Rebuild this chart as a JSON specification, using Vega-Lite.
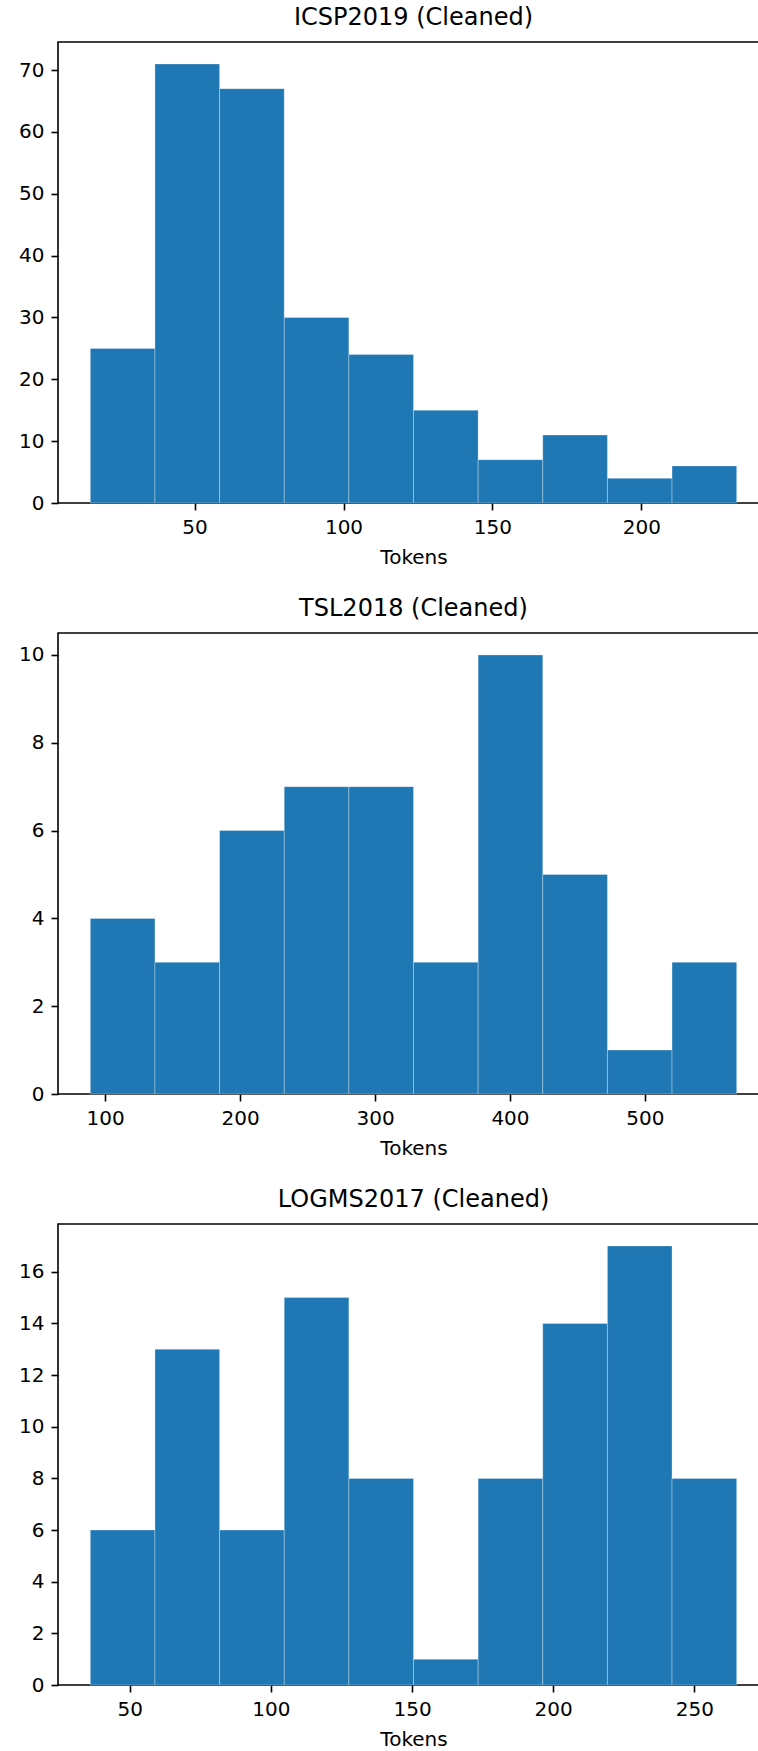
{
  "$schema": "https://vega.github.io/schema/vega-lite/v6.json",
  "autosize": {"type": "pad"},
  "padding": {"left": 17, "top": 5, "right": 0, "bottom": 0},
  "background": "white",
  "datasets": {
    "icsp": [
      {"bin_start": 15.0, "bin_end": 36.7, "count": 25},
      {"bin_start": 36.7, "bin_end": 58.4, "count": 71},
      {"bin_start": 58.4, "bin_end": 80.1, "count": 67},
      {"bin_start": 80.1, "bin_end": 101.8, "count": 30},
      {"bin_start": 101.8, "bin_end": 123.5, "count": 24},
      {"bin_start": 123.5, "bin_end": 145.2, "count": 15},
      {"bin_start": 145.2, "bin_end": 166.9, "count": 7},
      {"bin_start": 166.9, "bin_end": 188.6, "count": 11},
      {"bin_start": 188.6, "bin_end": 210.3, "count": 4},
      {"bin_start": 210.3, "bin_end": 232.0, "count": 6}
    ],
    "tsl": [
      {"bin_start": 89.0, "bin_end": 136.9, "count": 4},
      {"bin_start": 136.9, "bin_end": 184.8, "count": 3},
      {"bin_start": 184.8, "bin_end": 232.7, "count": 6},
      {"bin_start": 232.7, "bin_end": 280.6, "count": 7},
      {"bin_start": 280.6, "bin_end": 328.5, "count": 7},
      {"bin_start": 328.5, "bin_end": 376.4, "count": 3},
      {"bin_start": 376.4, "bin_end": 424.3, "count": 10},
      {"bin_start": 424.3, "bin_end": 472.2, "count": 5},
      {"bin_start": 472.2, "bin_end": 520.1, "count": 1},
      {"bin_start": 520.1, "bin_end": 568.0, "count": 3}
    ],
    "logms": [
      {"bin_start": 36.0, "bin_end": 58.9, "count": 6},
      {"bin_start": 58.9, "bin_end": 81.8, "count": 13},
      {"bin_start": 81.8, "bin_end": 104.7, "count": 6},
      {"bin_start": 104.7, "bin_end": 127.6, "count": 15},
      {"bin_start": 127.6, "bin_end": 150.5, "count": 8},
      {"bin_start": 150.5, "bin_end": 173.4, "count": 1},
      {"bin_start": 173.4, "bin_end": 196.3, "count": 8},
      {"bin_start": 196.3, "bin_end": 219.2, "count": 14},
      {"bin_start": 219.2, "bin_end": 242.1, "count": 17},
      {"bin_start": 242.1, "bin_end": 265.0, "count": 8}
    ]
  },
  "config": {
    "font": "DejaVu Sans",
    "view": {"stroke": "#000000", "strokeWidth": 1.6},
    "axis": {
      "grid": false,
      "domain": false,
      "tickColor": "#000000",
      "tickWidth": 1.6,
      "tickSize": 7,
      "labelPadding": 7,
      "labelFontSize": 20,
      "labelColor": "#000000",
      "labelFont": "DejaVu Sans",
      "titleFont": "DejaVu Sans",
      "titleFontSize": 20,
      "titleFontWeight": "normal",
      "titleColor": "#000000",
      "labelFlush": false,
      "labelOverlap": false
    },
    "title": {
      "fontSize": 24,
      "fontWeight": "normal",
      "color": "#000000",
      "font": "DejaVu Sans",
      "offset": 12,
      "frame": "group",
      "anchor": "middle",
      "baseline": "alphabetic"
    },
    "concat": {"spacing": 28}
  },
  "vconcat": [
    {
      "title": "ICSP2019 (Cleaned)",
      "width": 711,
      "height": 461,
      "data": {"name": "icsp"},
      "mark": {"type": "bar", "color": "#1f77b4", "stroke": "#ffffff", "strokeOpacity": 0.3, "strokeWidth": 1},
      "encoding": {
        "x": {"field": "bin_start", "type": "quantitative", "scale": {"domain": [4.15, 242.85], "nice": false, "zero": false}, "axis": {"values": [50, 100, 150, 200], "format": "d", "title": "Tokens", "titlePadding": 10}},
        "x2": {"field": "bin_end"},
        "y": {"field": "count", "type": "quantitative", "scale": {"domain": [0, 74.55], "nice": false}, "axis": {"values": [0, 10, 20, 30, 40, 50, 60, 70], "format": "d", "title": null}},
        "y2": {"datum": 0}
      }
    },
    {
      "title": "TSL2018 (Cleaned)",
      "width": 711,
      "height": 461,
      "data": {"name": "tsl"},
      "mark": {"type": "bar", "color": "#1f77b4", "stroke": "#ffffff", "strokeOpacity": 0.3, "strokeWidth": 1},
      "encoding": {
        "x": {"field": "bin_start", "type": "quantitative", "scale": {"domain": [65.05, 591.95], "nice": false, "zero": false}, "axis": {"values": [100, 200, 300, 400, 500], "format": "d", "title": "Tokens", "titlePadding": 10}},
        "x2": {"field": "bin_end"},
        "y": {"field": "count", "type": "quantitative", "scale": {"domain": [0, 10.5], "nice": false}, "axis": {"values": [0, 2, 4, 6, 8, 10], "format": "d", "title": null}},
        "y2": {"datum": 0}
      }
    },
    {
      "title": "LOGMS2017 (Cleaned)",
      "width": 711,
      "height": 461,
      "data": {"name": "logms"},
      "mark": {"type": "bar", "color": "#1f77b4", "stroke": "#ffffff", "strokeOpacity": 0.3, "strokeWidth": 1},
      "encoding": {
        "x": {"field": "bin_start", "type": "quantitative", "scale": {"domain": [24.55, 276.45], "nice": false, "zero": false}, "axis": {"values": [50, 100, 150, 200, 250], "format": "d", "title": "Tokens", "titlePadding": 10}},
        "x2": {"field": "bin_end"},
        "y": {"field": "count", "type": "quantitative", "scale": {"domain": [0, 17.85], "nice": false}, "axis": {"values": [0, 2, 4, 6, 8, 10, 12, 14, 16], "format": "d", "title": null}},
        "y2": {"datum": 0}
      }
    }
  ]
}
